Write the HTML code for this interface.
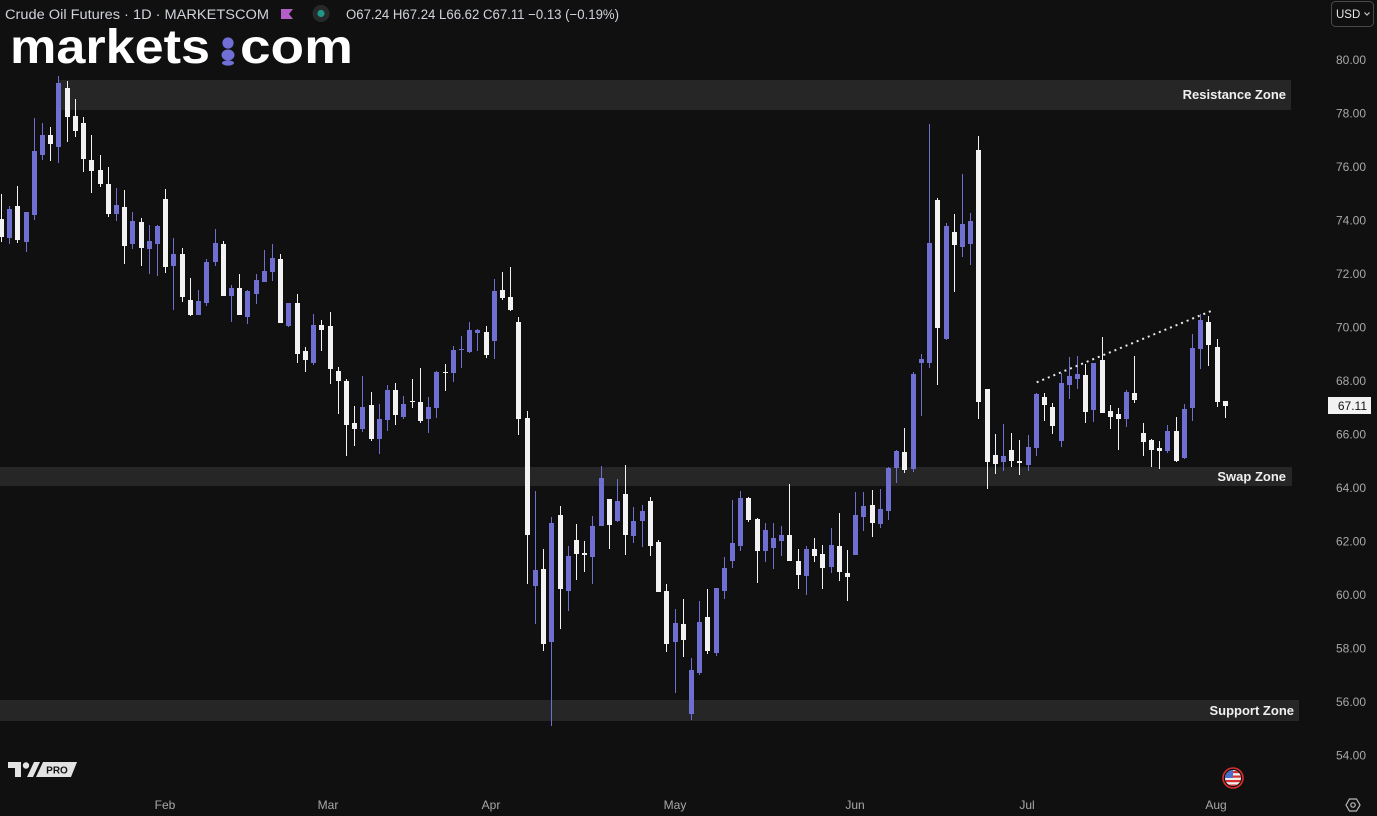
<!DOCTYPE html>
<html>
<head>
<meta charset="utf-8">
<style>
  html,body{margin:0;padding:0;background:#101010;}
  body{width:1377px;height:816px;overflow:hidden;}
  svg{display:block;}
  text{font-family:"Liberation Sans", sans-serif;}
</style>
</head>
<body>
<svg id="chart" width="1377" height="816" viewBox="0 0 1377 816" xmlns="http://www.w3.org/2000/svg">
  <rect x="0" y="0" width="1377" height="816" fill="#101010"/>

  <!-- zones -->
  <rect x="59" y="80" width="1232" height="30" fill="#262626"/>
  <rect x="0" y="467" width="1292" height="19" fill="#262626"/>
  <rect x="0" y="700" width="1299" height="21" fill="#262626"/>

  <g id="candles" shape-rendering="crispEdges"></g>

  <!-- dotted trend line -->
  <line x1="1036.7" y1="382.3" x2="1214.3" y2="309.7" stroke="#e8e8e8" stroke-width="2" stroke-dasharray="2 4"/>

  <!-- zone labels -->
  <text x="1286" y="99" font-size="13" font-weight="bold" fill="#f0f0f0" text-anchor="end">Resistance Zone</text>
  <text x="1286" y="481" font-size="13" font-weight="bold" fill="#f0f0f0" text-anchor="end">Swap Zone</text>
  <text x="1294" y="715" font-size="13" font-weight="bold" fill="#f0f0f0" text-anchor="end">Support Zone</text>

  <!-- header -->
  <text x="5" y="19" font-size="13.5" fill="#d1d4dc" textLength="264" lengthAdjust="spacingAndGlyphs">Crude Oil Futures · 1D · MARKETSCOM</text>
  <polygon points="281,9 293,9 289,14 293,19 281,19" fill="#b45fc9"/>
  <circle cx="321" cy="13.5" r="8.5" fill="#262a2a"/>
  <circle cx="321" cy="13.5" r="3.6" fill="#1f9688"/>
  <text x="346" y="19" font-size="13.5" fill="#d1d4dc" textLength="273" lengthAdjust="spacingAndGlyphs">O67.24 H67.24 L66.62 C67.11 −0.13 (−0.19%)</text>

  <!-- logo -->
  <text x="10" y="63" font-size="48" font-weight="bold" fill="#ffffff" textLength="200" lengthAdjust="spacingAndGlyphs">markets</text>
  <text x="240" y="63" font-size="48" font-weight="bold" fill="#ffffff" textLength="113" lengthAdjust="spacingAndGlyphs">com</text>
  <circle cx="228" cy="43" r="5.6" fill="#6f6fd6"/>
  <ellipse cx="228" cy="55" rx="6.5" ry="5.5" fill="#6f6fd6"/>
  <ellipse cx="228" cy="63" rx="6" ry="2.6" fill="#6f6fd6"/>

  <!-- USD box -->
  <rect x="1331.5" y="1.5" width="42" height="25" rx="4" ry="4" fill="none" stroke="#4a4a4a" stroke-width="1"/>
  <text x="1336" y="18" font-size="11.5" fill="#e6e6e6">USD</text>
  <polyline points="1364.5,12.5 1367,15 1369.5,12.5" fill="none" stroke="#c8c8c8" stroke-width="1.2"/>

  <!-- price axis -->
  <g font-size="12" fill="#a8a8a8" text-anchor="end">
    <text x="1366" y="64">80.00</text>
    <text x="1366" y="117.5">78.00</text>
    <text x="1366" y="171">76.00</text>
    <text x="1366" y="224.5">74.00</text>
    <text x="1366" y="278">72.00</text>
    <text x="1366" y="331.5">70.00</text>
    <text x="1366" y="385">68.00</text>
    <text x="1366" y="438.5">66.00</text>
    <text x="1366" y="492">64.00</text>
    <text x="1366" y="545.5">62.00</text>
    <text x="1366" y="599">60.00</text>
    <text x="1366" y="652.5">58.00</text>
    <text x="1366" y="706">56.00</text>
    <text x="1366" y="759.5">54.00</text>
  </g>
  <rect x="1328" y="397" width="43" height="17" fill="#f2f2f2"/>
  <text x="1367" y="410" font-size="12" fill="#131313" text-anchor="end">67.11</text>

  <!-- time axis -->
  <g font-size="12" fill="#a8a8a8" text-anchor="middle">
    <text x="165" y="809">Feb</text>
    <text x="328" y="809">Mar</text>
    <text x="491" y="809">Apr</text>
    <text x="675" y="809">May</text>
    <text x="855" y="809">Jun</text>
    <text x="1027" y="809">Jul</text>
    <text x="1216" y="809">Aug</text>
  </g>

  <!-- settings icon -->
  <polygon points="1346,805 1349.5,799 1356.5,799 1360,805 1356.5,811 1349.5,811" fill="none" stroke="#b8b8b8" stroke-width="1.2"/>
  <circle cx="1353" cy="805" r="2.2" fill="none" stroke="#b8b8b8" stroke-width="1.2"/>

  <!-- US flag event icon -->
  <circle cx="1233" cy="778" r="10" fill="none" stroke="#d9302f" stroke-width="1.6"/>
  <clipPath id="fc"><circle cx="1233" cy="778" r="8"/></clipPath>
  <g clip-path="url(#fc)">
    <rect x="1224" y="769" width="18" height="18" fill="#f0f0f0"/>
    <rect x="1224" y="771" width="18" height="2.2" fill="#d9302f"/>
    <rect x="1224" y="775.5" width="18" height="2.2" fill="#d9302f"/>
    <rect x="1224" y="780" width="18" height="2.2" fill="#d9302f"/>
    <rect x="1224" y="784.5" width="18" height="2.2" fill="#d9302f"/>
    <rect x="1224" y="769" width="9" height="9" fill="#4a6fc8"/>
  </g>

  <!-- TradingView PRO logo -->
  <polygon points="8,762 21,762 21,777 15,777 15,768 8,768" fill="#e3e3e3"/>
  <circle cx="26" cy="765.5" r="3.2" fill="#e3e3e3"/>
  <polygon points="27,777 33,777 40,762 34,762" fill="#e3e3e3"/>
  <polygon points="36,777 71,777 77,762 43,762" fill="#e3e3e3"/>
  <text x="57" y="773.5" font-size="10" font-weight="bold" fill="#141414" text-anchor="middle">PRO</text>
</svg>

<script>
(function(){
  var P="#6f6fd2", W="#f2f2f2";
  // [center x, high y, low y, body top y, body bottom y, color]
  var d=[
  [1,194,242,219,237,W],[9,206,244,209,238,P],[17,186,243,206,240,W],[26,212,252,212,242,P],
  [34,118,220,151,215,P],[42,123,160,135,155,P],[50,127,161,135,144,W],[58,76,163,83,147,P],
  [67,81,142,88,117,W],[75,99,137,116,131,W],[83,117,172,123,159,W],[91,135,193,160,171,W],
  [100,155,187,170,184,W],[108,167,217,184,214,W],[116,188,221,205,214,P],[124,190,264,207,246,W],
  [132,212,249,221,244,P],[141,218,266,222,248,W],[149,225,274,241,249,P],[157,225,276,226,244,P],
  [165,189,273,199,267,W],[173,238,310,254,266,P],[182,248,302,254,297,W],[190,278,316,300,315,W],
  [198,290,315,301,315,P],[206,259,306,262,303,P],[215,229,266,243,262,P],[223,241,296,244,296,W],
  [231,285,322,288,296,P],[239,274,315,288,315,W],[247,290,324,291,317,P],[256,274,304,280,294,P],
  [264,250,282,271,282,P],[272,244,281,258,272,P],[280,254,323,259,323,W],[288,303,327,303,326,P],
  [297,294,363,303,354,W],[305,347,372,351,360,W],[313,314,365,325,363,P],[321,320,351,325,330,W],
  [330,312,384,326,369,W],[338,367,414,371,381,W],[346,379,456,381,425,W],[354,406,446,423,429,W],
  [362,376,432,407,429,P],[371,392,441,405,439,W],[379,404,454,419,439,P],[387,385,431,390,420,P],
  [395,383,425,390,415,W],[403,396,419,404,417,P],[412,379,408,401,402,W],[420,368,423,402,421,W],
  [428,397,433,407,419,P],[436,371,418,372,408,P],[445,364,391,372,373,W],[453,346,382,350,373,P],
  [461,336,368,349,350,P],[469,322,353,330,352,P],[477,329,351,330,333,P],[486,326,358,332,355,W],
  [494,279,359,291,341,P],[502,272,300,290,298,W],[510,267,311,297,310,W],[518,317,435,322,419,W],
  [527,411,584,418,535,W],[535,491,624,570,586,P],[543,549,651,569,644,W],[551,517,726,523,642,P],
  [560,506,629,515,589,W],[568,546,611,556,591,P],[576,524,580,540,554,W],[584,541,572,553,555,W],
  [592,516,584,526,557,P],[601,466,526,478,526,P],[609,499,549,499,525,W],[617,479,522,501,521,P],
  [625,465,555,494,535,W],[633,507,543,521,536,P],[642,505,547,511,521,P],[650,497,556,501,546,W],
  [658,540,592,542,592,W],[666,584,652,591,644,W],[675,609,693,623,642,P],[683,599,657,624,640,W],
  [691,658,720,670,714,P],[699,601,675,622,673,P],[707,589,654,617,651,W],[716,588,656,588,653,P],
  [724,557,599,568,591,P],[732,500,568,543,561,P],[740,491,551,498,546,P],[748,497,522,498,520,W],
  [757,518,583,519,551,W],[765,523,562,530,551,P],[773,523,569,538,548,P],[781,526,556,535,541,P],
  [789,484,561,535,561,W],[798,549,589,561,575,W],[806,546,595,549,576,P],[814,538,562,549,556,W],
  [822,545,589,554,568,W],[831,528,573,545,567,P],[839,513,581,546,572,W],[847,550,601,573,577,W],
  [855,492,555,515,555,P],[863,492,531,506,517,P],[872,490,537,505,523,W],[880,489,528,509,524,P],
  [888,467,520,468,511,P],[896,450,483,451,468,P],[904,428,473,452,470,W],[913,372,472,374,469,P],
  [921,354,416,359,363,P],[929,124,368,243,363,P],[937,198,385,200,328,W],[946,223,340,226,339,P],
  [954,214,292,232,245,W],[962,174,257,224,247,P],[970,213,265,221,244,P],[978,136,419,150,402,W],
  [987,389,489,389,462,W],[995,434,474,455,464,W],[1003,424,471,456,462,P],[1011,433,467,450,461,W],
  [1019,440,475,461,463,W],[1028,435,471,447,465,P],[1036,393,456,394,448,P],[1044,393,421,397,405,W],
  [1052,403,434,407,426,W],[1061,373,447,383,441,P],[1069,357,399,376,385,P],[1077,356,389,374,379,P],
  [1085,364,423,375,412,W],[1093,363,422,363,410,P],[1102,337,413,360,413,W],[1110,405,429,411,417,W],
  [1118,408,450,414,419,W],[1126,390,427,392,419,P],[1134,356,403,393,400,W],[1143,423,456,433,442,W],
  [1151,439,467,440,450,W],[1159,441,469,448,451,W],[1167,425,453,431,451,P],[1176,417,462,431,461,W],
  [1184,404,459,409,458,P],[1192,334,421,348,408,P],[1200,314,369,320,349,P],[1208,316,366,322,345,W],
  [1217,339,407,347,402,W],[1225,401,418,401,406,W]
  ];
  var ns="http://www.w3.org/2000/svg", g=document.getElementById("candles");
  function r(x,y,w,h,c){var e=document.createElementNS(ns,"rect");e.setAttribute("x",x);e.setAttribute("y",y);e.setAttribute("width",w);e.setAttribute("height",h);e.setAttribute("fill",c);g.appendChild(e);}
  for(var i=0;i<d.length;i++){
    var k=d[i];
    r(k[0],k[1],1,Math.max(1,k[2]-k[1]),k[5]);
    r(k[0]-2,k[3],5,Math.max(1,k[4]-k[3]),k[5]);
  }
})();
</script>
</body>
</html>
